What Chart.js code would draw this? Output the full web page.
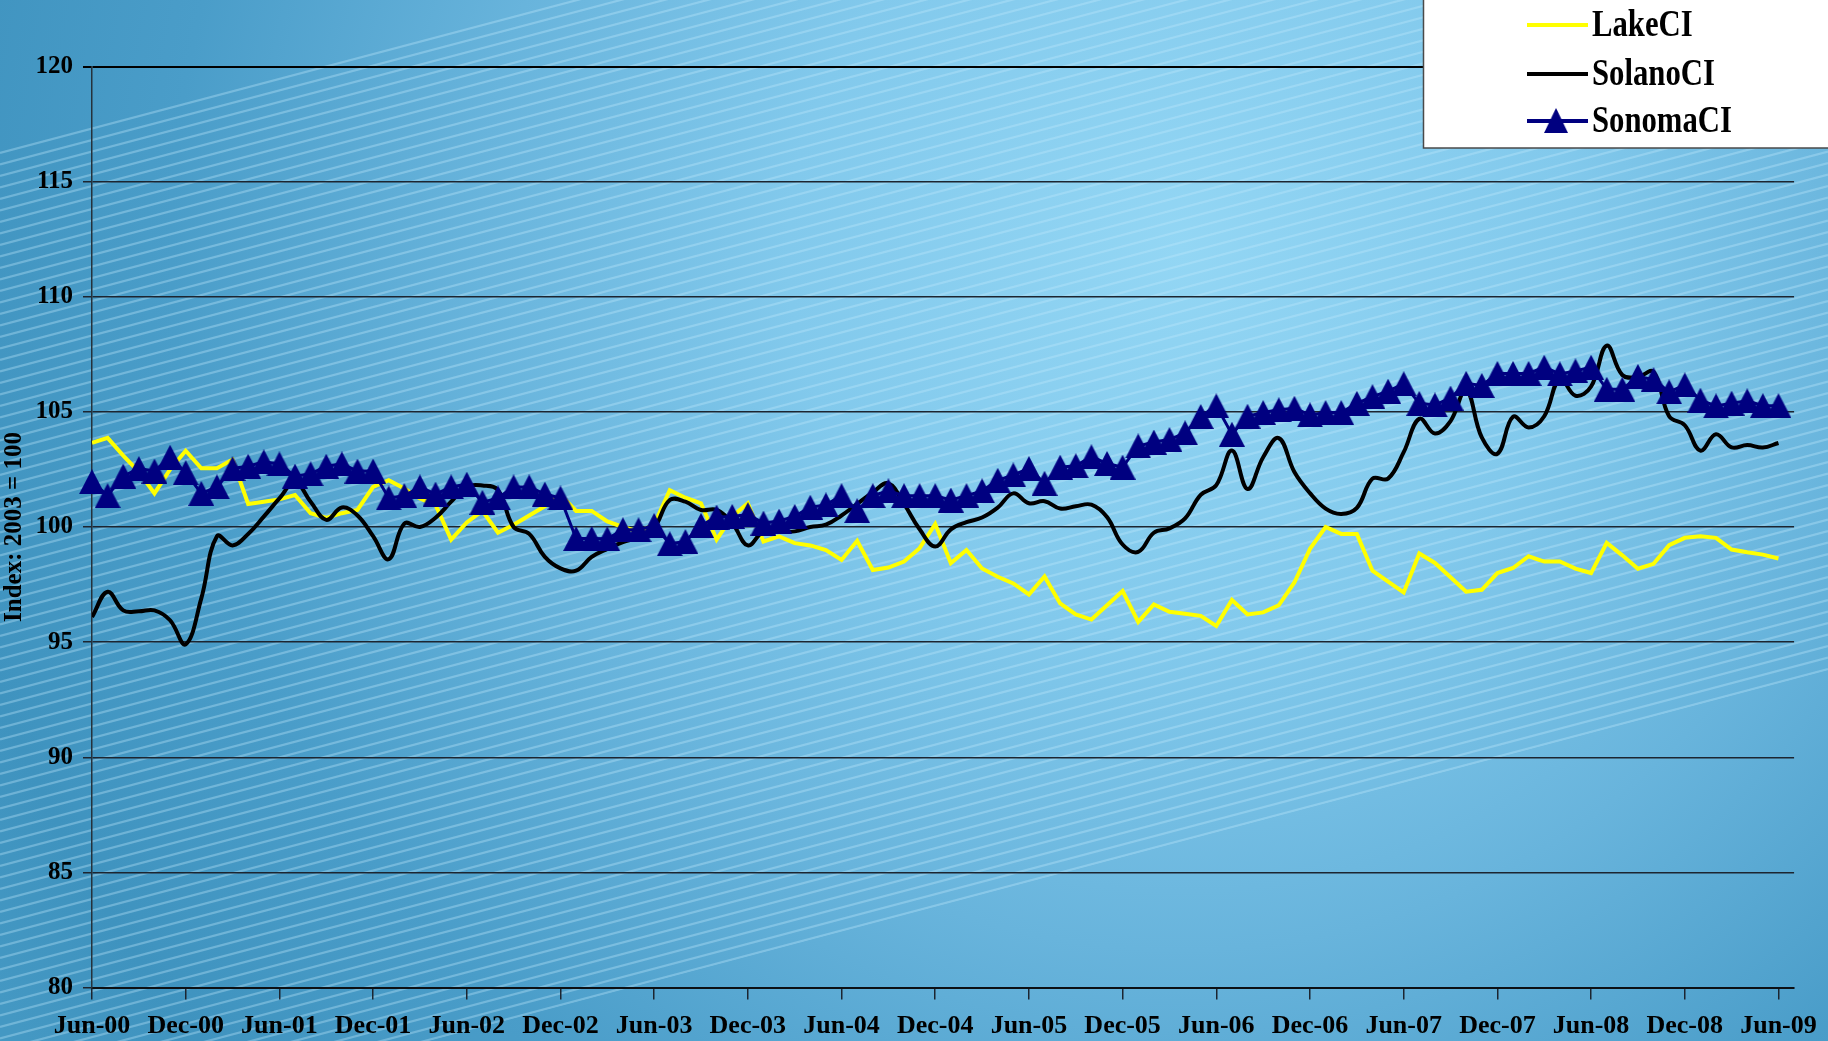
<!DOCTYPE html>
<html>
<head>
<meta charset="utf-8">
<title>Coincident Index: Lake, Solano and Sonoma</title>
<script src="https://cdn.jsdelivr.net/npm/chart.js@4/dist/chart.umd.min.js"></script>
<style>
  html, body { margin: 0; padding: 0; background: #4a9cc6; }
  #wrap { width: 1828px; height: 1041px; position: relative; }
</style>
</head>
<body>
<div id="wrap"><canvas id="chart" width="1828" height="1041"></canvas></div>
<script>
// Monthly index values, Jun-00 through Jun-09 (2003 = 100)
const tickLabels = ['Jun-00', 'Dec-00', 'Jun-01', 'Dec-01', 'Jun-02', 'Dec-02', 'Jun-03', 'Dec-03',
  'Jun-04', 'Dec-04', 'Jun-05', 'Dec-05', 'Jun-06', 'Dec-06', 'Jun-07', 'Dec-07', 'Jun-08', 'Dec-08', 'Jun-09'];

const seriesNames = ['LakeCI', 'SolanoCI', 'SonomaCI'];

const lakeCI = [
  103.66, 103.87, 103.10, 102.40, 101.46, 102.50, 103.31, 102.55, 102.55, 102.93, 101.00, 101.10,
  101.20, 101.39, 100.60, 100.39, 100.60, 100.74, 101.74, 102.03, 101.67, 101.24, 100.96, 99.45,
  100.20, 100.70, 99.75, 100.10, 100.50, 100.90, 101.40, 100.70, 100.70, 100.24, 100.00, 99.80,
  100.10, 101.60, 101.27, 101.03, 99.45, 100.46, 101.03, 99.37, 99.59, 99.30, 99.20, 99.00,
  98.57, 99.40, 98.13, 98.24, 98.50, 99.08, 100.13, 98.43, 99.00, 98.20, 97.84, 97.55,
  97.07, 97.85, 96.68, 96.20, 95.98, 96.60, 97.22, 95.88, 96.64, 96.32, 96.23, 96.14,
  95.70, 96.83, 96.20, 96.29, 96.60, 97.59, 99.05, 100.00, 99.70, 99.70, 98.10, 97.63,
  97.16, 98.85, 98.44, 97.82, 97.19, 97.27, 98.00, 98.22, 98.73, 98.50, 98.50, 98.19,
  98.00, 99.31, 98.77, 98.19, 98.40, 99.21, 99.53, 99.60, 99.53, 99.02, 98.90, 98.80,
  98.63
];

const solanoCI = [
  96.09, 97.19, 96.38, 96.34, 96.38, 95.95, 94.90, 96.90, 99.60, 99.20, 99.70, 100.45,
  101.24, 101.95, 101.10, 100.31, 100.85, 100.50, 99.60, 98.60, 100.15, 100.00, 100.40, 101.10,
  101.75, 101.80, 101.60, 100.00, 99.70, 98.70, 98.20, 98.10, 98.70, 99.05, 99.34, 99.55,
  99.96, 101.17, 101.10, 100.74, 100.74, 100.17, 99.20, 99.81, 99.81, 99.81, 100.00, 100.10,
  100.50, 101.00, 101.50, 101.90, 101.00, 99.90, 99.15, 99.90, 100.21, 100.41, 100.84, 101.46,
  101.03, 101.12, 100.80, 100.90, 100.97, 100.43, 99.24, 98.92, 99.75, 99.94, 100.37, 101.40,
  101.82, 103.32, 101.65, 103.03, 103.86, 102.39, 101.47, 100.80, 100.57, 100.83, 102.10, 102.10,
  103.25, 104.70, 104.06, 104.60, 105.95, 103.89, 103.18, 104.79, 104.32, 104.81, 106.45, 105.70,
  106.10, 107.88, 106.60, 106.52, 106.74, 104.81, 104.42, 103.32, 104.03, 103.46, 103.56, 103.45,
  103.65
];

const sonomaCI = [
  101.97, 101.36, 102.21, 102.54, 102.43, 103.03, 102.36, 101.46, 101.74, 102.54, 102.64, 102.83,
  102.74, 102.21, 102.31, 102.64, 102.74, 102.43, 102.43, 101.26, 101.36, 101.74, 101.43, 101.74,
  101.86, 101.07, 101.26, 101.74, 101.74, 101.43, 101.26, 99.50, 99.50, 99.49, 99.88, 99.88,
  100.07, 99.27, 99.37, 100.07, 100.43, 100.46, 100.54, 100.17, 100.26, 100.46, 100.86, 100.96,
  101.36, 100.71, 101.36, 101.57, 101.36, 101.36, 101.36, 101.17, 101.36, 101.57, 102.03, 102.26,
  102.54, 101.90, 102.60, 102.66, 103.05, 102.76, 102.60, 103.52, 103.69, 103.80, 104.09, 104.80,
  105.26, 104.03, 104.81, 104.97, 105.09, 105.16, 104.87, 104.97, 104.97, 105.37, 105.66, 105.90,
  106.22, 105.37, 105.30, 105.60, 106.24, 106.15, 106.67, 106.67, 106.67, 106.94, 106.65, 106.78,
  106.94, 105.98, 105.98, 106.54, 106.40, 105.87, 106.17, 105.51, 105.26, 105.38, 105.48, 105.27,
  105.27
];

const TICK_EVERY = 6;               // one label per half year
const FONT = 'Liberation Serif';
const GRID = '#1c2530';
const Y_MIN = 80, Y_MAX = 120, Y_STEP = 5;

// Filled triangle marker, centred on its box
function makeTriangle(w, h, color) {
  const c = document.createElement('canvas');
  c.width = w; c.height = h;
  const g = c.getContext('2d');
  g.fillStyle = color;
  g.beginPath();
  g.moveTo(w / 2, 0);
  g.lineTo(w, h);
  g.lineTo(0, h);
  g.closePath();
  g.fill();
  return c;
}
const triangle = makeTriangle(26, 25, '#000080');

const toPoints = arr => arr.map((v, i) => ({ x: i, y: v }));

// Blue gradient backdrop with a diagonal band of fine light stripes
const backdrop = {
  id: 'backdrop',
  beforeDraw(chart) {
    const { ctx, width, height } = chart;
    ctx.save();
    const g = ctx.createRadialGradient(1180, 250, 0, 1180, 250, 1400);
    g.addColorStop(0, '#93d6f4');
    g.addColorStop(0.28, '#82c9ec');
    g.addColorStop(0.5, '#68b4dc');
    g.addColorStop(0.72, '#4a9dc9');
    g.addColorStop(0.9, '#3f93bf');
    g.addColorStop(1, '#4498c3');
    ctx.fillStyle = g;
    ctx.fillRect(0, 0, width, height);

    const s = -0.265;
    ctx.beginPath();
    ctx.moveTo(0, 147);
    ctx.lineTo(width, 147 + s * width);
    ctx.lineTo(width, height + s * (width - 430));
    ctx.lineTo(430, height);
    ctx.lineTo(0, height);
    ctx.closePath();
    ctx.clip();
    ctx.strokeStyle = 'rgba(190, 232, 252, 0.36)';
    ctx.lineWidth = 2.2;
    for (let c = -100; c < height + 600; c += 11.5) {
      ctx.beginPath();
      ctx.moveTo(0, c);
      ctx.lineTo(width, c + s * width);
      ctx.stroke();
    }
    ctx.restore();
  }
};

// Boxed legend in the top right corner
const cornerLegend = {
  id: 'cornerLegend',
  afterDraw(chart) {
    const { ctx } = chart;
    ctx.save();
    ctx.fillStyle = '#ffffff';
    ctx.fillRect(1423, -2, 420, 150);
    ctx.strokeStyle = '#4a4a4a';
    ctx.lineWidth = 1.5;
    ctx.strokeRect(1423.5, -2, 420, 150);
    const rows = [25, 74, 121];
    chart.data.datasets.forEach((ds, k) => {
      const y = rows[k];
      ctx.strokeStyle = ds.borderColor;
      ctx.lineWidth = 4;
      ctx.beginPath();
      ctx.moveTo(1527, y);
      ctx.lineTo(1588, y);
      ctx.stroke();
      if (ds.pointStyle && typeof ds.pointStyle === 'object') {
        ctx.drawImage(ds.pointStyle, 1556 - 12, y - 13, 24, 25);
      }
      // narrow, tall serif lettering
      ctx.save();
      ctx.translate(1592, y + 1);
      ctx.scale(0.83, 1);
      ctx.font = 'bold 37px "' + FONT + '"';
      ctx.textBaseline = 'middle';
      ctx.fillStyle = '#000000';
      ctx.fillText(ds.label, 0, 0);
      ctx.restore();
    });
    ctx.restore();
  }
};

new Chart(document.getElementById('chart'), {
  type: 'line',
  data: {
    datasets: [
      {
        label: seriesNames[0],
        data: toPoints(lakeCI),
        borderColor: '#ffff00',
        borderWidth: 4,
        pointRadius: 0,
        tension: 0,
        order: 3
      },
      {
        label: seriesNames[1],
        data: toPoints(solanoCI),
        borderColor: '#000000',
        borderWidth: 4,
        pointRadius: 0,
        tension: 0.4,
        order: 2
      },
      {
        label: seriesNames[2],
        data: toPoints(sonomaCI),
        borderColor: '#000080',
        borderWidth: 3,
        pointStyle: triangle,
        pointRadius: 12,
        tension: 0,
        clip: false,
        order: 1
      }
    ]
  },
  options: {
    responsive: false,
    animation: false,
    events: [],
    layout: { padding: { top: 66.5, right: 27, left: 0, bottom: 0 } },
    plugins: {
      legend: { display: false },
      tooltip: { enabled: false },
      title: { display: false }
    },
    scales: {
      x: {
        type: 'linear',
        min: 0,
        max: 109,
        afterBuildTicks(scale) {
          scale.ticks = tickLabels.map((_, k) => ({ value: k * TICK_EVERY }));
        },
        afterFit(scale) { scale.height = 53.5; },
        ticks: {
          autoSkip: false,
          maxRotation: 0,
          minRotation: 0,
          padding: 11,
          color: '#000000',
          font: { family: FONT, size: 26, weight: 'bold' },
          callback: (value) => tickLabels[Math.round(value / TICK_EVERY)]
        },
        grid: {
          drawOnChartArea: false,
          drawTicks: true,
          tickLength: 12,
          color: GRID,
          lineWidth: 1.5
        },
        border: { display: true, color: '#0c1014', width: 2 }
      },
      y: {
        min: Y_MIN,
        max: Y_MAX,
        afterFit(scale) { scale.width = 92; },
        ticks: {
          stepSize: Y_STEP,
          padding: 10,
          color: '#000000',
          font: { family: FONT, size: 25, weight: 'bold' }
        },
        grid: {
          color: (c) => (c.tick && c.tick.value === Y_MAX ? '#000000' : GRID),
          lineWidth: (c) => (c.tick && c.tick.value === Y_MAX ? 2 : 1.5),
          tickLength: 9,
          drawTicks: true
        },
        border: { display: true, color: '#25323c', width: 1.5 },
        title: {
          display: true,
          text: 'Index: 2003 = 100',
          color: '#000000',
          padding: { top: 0, bottom: 0 },
          font: { family: FONT, size: 25, weight: 'bold' }
        }
      }
    }
  },
  plugins: [backdrop, cornerLegend]
});
</script>
</body>
</html>
